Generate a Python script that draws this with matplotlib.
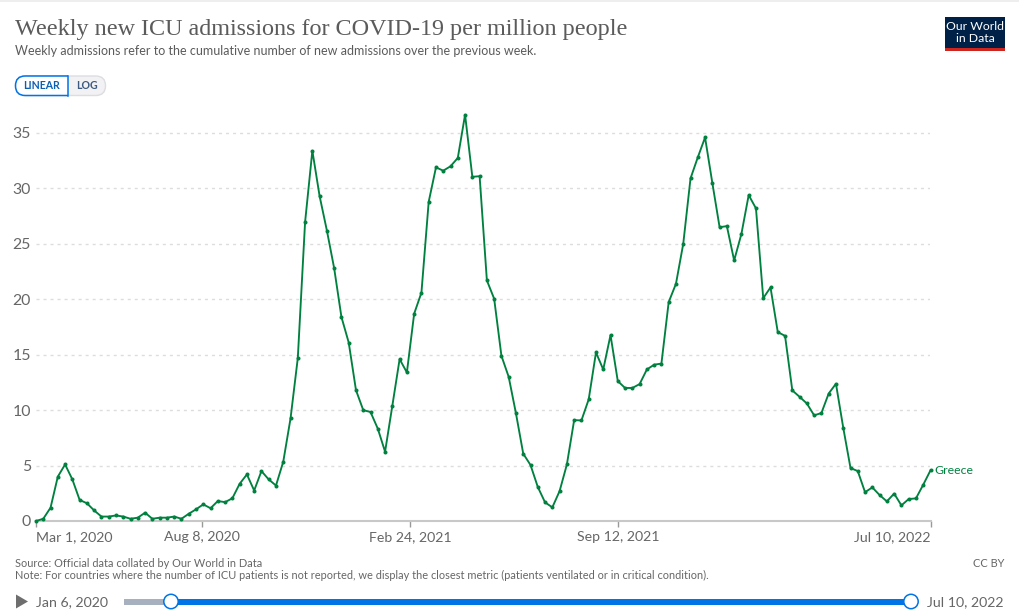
import matplotlib
matplotlib.use("Agg")
import matplotlib.pyplot as plt
import pandas as pd
from matplotlib.patches import FancyBboxPatch, Rectangle, Polygon, Circle

################################################################################
# data

start_date = "2020-03-01"
icu_greece = [
    0.0, 0.2, 1.2, 4.0, 5.1, 3.75, 1.9, 1.6, 0.95, 0.4,
    0.4, 0.5, 0.4, 0.2, 0.3, 0.75, 0.2, 0.3, 0.3, 0.4,
    0.2, 0.65, 1.05, 1.5, 1.15, 1.8, 1.7, 2.05, 3.35, 4.2,
    2.75, 4.5, 3.75, 3.2, 5.35, 9.25, 14.7, 26.95, 33.4, 29.3,
    26.2, 22.8, 18.4, 16.1, 11.8, 10.0, 9.83, 8.33, 6.25, 10.4,
    14.6, 13.4, 18.7, 20.6, 28.8, 31.9, 31.6, 32.0, 32.75, 36.65,
    31.05, 31.1, 21.7, 20.05, 14.9, 13.0, 9.7, 6.07, 5.05, 3.07,
    1.68, 1.23, 2.7, 5.1, 9.1, 9.07, 10.97, 15.2, 13.67, 16.77,
    12.62, 12.0, 12.0, 12.35, 13.67, 14.1, 14.2, 19.75, 21.4, 25.0,
    30.9, 32.8, 34.6, 30.5, 26.5, 26.6, 23.5, 25.9, 29.4, 28.2,
    20.1, 21.07, 17.04, 16.7, 11.78, 11.2, 10.6, 9.53, 9.74, 11.5,
    12.38, 8.42, 4.78, 4.5, 2.6, 3.03, 2.34, 1.77, 2.47, 1.41,
    1.98, 2.04, 3.27, 4.57,
]
y_ticks = [0, 5, 10, 15, 20, 25, 30, 35]
x_tick_dates = ["2020-03-01", "2020-08-08", "2021-02-24", "2021-09-12", "2022-07-10"]
x_tick_labels = ["Mar 1, 2020", "Aug 8, 2020", "Feb 24, 2021", "Sep 12, 2021", "Jul 10, 2022"]

################################################################################

W, H = 1020, 613
GREEN = "#00813f"
GREY = "#666666"
BLUE = "#0073e6"

plt.rcParams["font.family"] = ["Lato", "DejaVu Sans"]

fig = plt.figure(figsize=(W / 100, H / 100), dpi=100, facecolor="white")

# overlay in pixel coordinates for the page furniture around the chart
page = fig.add_axes([0, 0, 1, 1], zorder=0)
page.set_xlim(0, W)
page.set_ylim(H, 0)
page.axis("off")

# main chart, 0 sits at y=521 and 35 at y=133
px_per_unit = (521 - 133) / 35
top_px = 100
ax = fig.add_axes([36 / W, 1 - 521 / H, (930.5 - 36) / W, (521 - top_px) / H], zorder=1)
ax.patch.set_alpha(0)

dates = pd.date_range(start_date, periods=len(icu_greece), freq="7D")
ax.plot(dates, icu_greece, color=GREEN, lw=1.35, marker="o", ms=2.9, mew=0, clip_on=False, zorder=3)

ax.set_xlim(dates[0], dates[-1])
ax.set_ylim(0, (521 - top_px) / px_per_unit)

for s in ["top", "right", "left"]:
    ax.spines[s].set_visible(False)
ax.spines["bottom"].set_color("#c8c8c8")
ax.spines["bottom"].set_linewidth(1.5)

ax.set_yticks(y_ticks)
ax.set_yticklabels([str(v) for v in y_ticks], fontsize=11.4, color=GREY)
ax.tick_params(axis="y", length=0, pad=3.6)
ax.grid(axis="y", color="#dddddd", lw=1, ls=(0, (2.16, 2.894)))
ax.set_axisbelow(True)
for gl in ax.get_ygridlines()[:1]:
    gl.set_visible(False)

ticks = pd.to_datetime(x_tick_dates)
ax.set_xticks(ticks)
ax.set_xticklabels(x_tick_labels, fontsize=10.2, color=GREY)
ax.tick_params(axis="x", length=4.5, width=1, color="#999999", pad=2.5)
labels = ax.get_xticklabels()
labels[0].set_ha("left")
labels[-1].set_ha("right")

ax.annotate("Greece", (dates[-1], icu_greece[-1]), xytext=(3, 0), textcoords="offset points",
            color=GREEN, fontsize=8.8, va="center", ha="left", annotation_clip=False)

# header
page.add_patch(Rectangle((0, 0), W, 1.5, color="#eeeeee", lw=0))
page.text(15, 29.5, "Weekly new ICU admissions for COVID-19 per million people",
          family=["Liberation Serif"], fontsize=17.4, color="#5b5b5b", va="center", ha="left")
page.text(15, 51, "Weekly admissions refer to the cumulative number of new admissions over the previous week.",
          fontsize=9.03, color="#5b5b5b", va="center", ha="left")

# logo
page.add_patch(Rectangle((945, 17), 60, 31, color="#002147", lw=0))
page.add_patch(Rectangle((945, 48), 60, 3, color="#ce261e", lw=0))
page.text(975, 26, "Our World", color="white", fontsize=8.8, ha="center", va="center")
page.text(975, 39, "in Data", color="white", fontsize=8.8, ha="center", va="center")

# linear / log toggle
log_pill = FancyBboxPatch((15.5, 76), 90, 19.5, boxstyle="round,pad=0,rounding_size=9.7",
                          fc="#f2f2f4", ec="#dcdde0", lw=1)
page.add_patch(log_pill)
lin_pill = FancyBboxPatch((15.5, 76), 80, 19.5, boxstyle="round,pad=0,rounding_size=9.7",
                          fc="white", ec=BLUE, lw=1.1)
page.add_patch(lin_pill)
lin_pill.set_clip_path(Rectangle((0, 60), 68, 50, transform=page.transData))
page.plot([68, 68], [76, 95.5], color=BLUE, lw=1.1)
page.text(41.5, 85.8, "LINEAR", color="#0a5fb4", fontsize=7.6, fontweight="bold", ha="center", va="center")
page.text(87, 85.8, "LOG", color="#3d5a80", fontsize=7.6, fontweight="bold", ha="center", va="center")

# footer
page.text(15, 563.5, "Source: Official data collated by Our World in Data", fontsize=7.95, color=GREY, va="center")
page.text(15, 575.5, "Note: For countries where the number of ICU patients is not reported, we display the closest metric (patients ventilated or in critical condition).",
          fontsize=7.95, color=GREY, va="center")
page.text(1004, 563.5, "CC BY", fontsize=7.95, color=GREY, va="center", ha="right")

# time slider
page.add_patch(Polygon([(16, 594.5), (16, 608.5), (28, 601.5)], color="#6e6e6e", lw=0))
page.text(36, 602, "Jan 6, 2020", fontsize=10.2, color=GREY, va="center")
page.text(1004, 602, "Jul 10, 2022", fontsize=10.2, color=GREY, va="center", ha="right")
page.add_patch(Rectangle((124, 599), 46, 5.5, color="#a7b0bf", lw=0))
page.add_patch(Rectangle((170, 599), 741, 5.5, color=BLUE, lw=0))
for cx in [171, 911]:
    page.add_patch(Circle((cx, 601.5), 7.2, fc="white", ec=BLUE, lw=1.1, zorder=4))

fig.savefig("out.png", dpi=100)
